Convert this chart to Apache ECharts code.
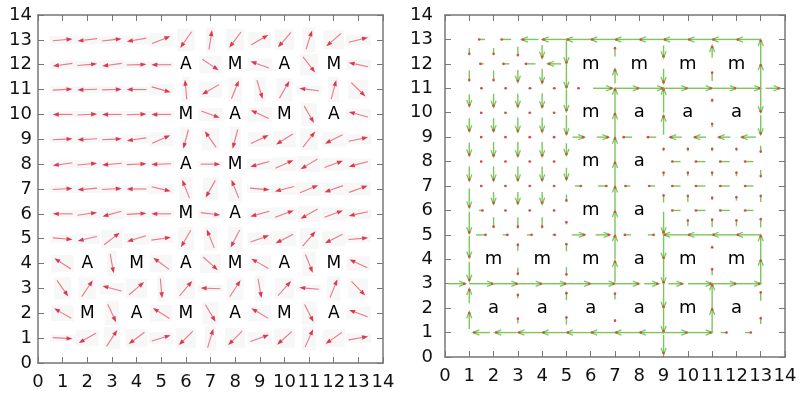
<!DOCTYPE html>
<html><head><meta charset="utf-8">
<script src="https://cdn.jsdelivr.net/npm/echarts@6/dist/echarts.min.js"></script>
<style>html,body{margin:0;padding:0;background:#fff}#c{width:802px;height:393px}</style>
</head><body><div id="c"></div>
<script>
// ---------- data ----------
const axisMin = 0, axisMax = 14;

// Left panel: arrow direction (degrees, counter-clockwise from +x) at integer grid points.
// Rows y = 13 … 1, columns x = 1 … 13; null = labelled cell.
const leftRowsY = [13,12,11,10,9,8,7,6,5,4,3,2,1];
const leftColsX = [1,2,3,4,5,6,7,8,9,10,11,12,13];
const leftAngles = [
  [5,187,7,190,22,235, 81,233,30,229,72,221,14],
  [188,5,188,2,180,null, -34,null,160,null,-52,null,168],
  [3,182,2,180,-16,95, 210,68,-73,60,173,75,-44],
  [180,3,180,2,180,null, -20,null,155,null,-60,null,165],
  [3,183,3,188,24,255, 125,255,25,212,52,207,12],
  [188,5,185,3,182,null, 0,null,195,24,211,20,195],
  [3,185,3,180,-13,112, 241,112,-5,195,22,200,20],
  [180,8,195,3,180,null, -7,null,195,20,210,20,192],
  [-5,193,38,197,8,240, 112,243,20,207,49,207,5],
  [147,null,-80,null,144,null, -42,null,150,null,-68,null,155],
  [-55,56,165,40,-85,50, 178,57,-80,48,175,68,-46],
  [150,null,-65,null,148,null, -59,null,149,null,-63,null,160],
  [-3,210,57,217,17,225, 73,225,20,222,66,215,10]
];
const leftLabelX = [6,8,10,12, 6,8,10,12, 6,8, 6,8, 2,4,6,8,10,12, 2,4,6,8,10,12];
const leftLabelY = [12,12,12,12, 10,10,10,10, 8,8, 6,6, 4,4,4,4,4,4, 2,2,2,2,2,2];
const leftLabelText = ['A','M','A','M', 'M','A','M','A', 'A','M', 'M','A', 'A','M','A','M','A','M', 'M','A','M','A','M','A'];

// Right panel: horizontal components at x = 0.5 … 13.5, rows y = 13 … 1
const flowHRowsY = [13,12,11,10,9,8,7,6,5,4,3,2,1];
const flowHColsX = [0.5,1.5,2.5,3.5,4.5,5.5,6.5,7.5,8.5,9.5,10.5,11.5,12.5,13.5];
const flowH = [
  [0,-0.3,-0.45,-0.7,-1,-1,-1,-1,-1,-1,-1,-1,-1,0],
  [0,-0.2,-0.3,-0.45,-0.55,0,0,0,0,0,0,0,0,0],
  [0,0.12,0.12,0.12,0.12,0.12,0.8,1,1,1,1,1,1,0.6],
  [0,0.1,0.1,0.1,0.1,0,0,0,0,0,0,0,0,0],
  [0,0.1,0.1,0.1,0.1,0.5,0.5,-0.4,-0.4,-0.5,-0.5,-0.5,-0.6,0],
  [0,0.1,0.1,0.1,0.1,0,0,0,0,-0.4,-0.45,-0.45,-0.4,0],
  [0,0.1,0.1,0.1,0.1,0.3,0.4,-0.25,-0.3,-0.4,-0.45,-0.45,-0.4,0],
  [0,0.2,0.1,0.1,0.1,0,0,0,0,-0.4,-0.45,-0.45,-0.4,0],
  [0,0.45,0.25,0.25,0.15,0.55,0.6,-0.3,0.3,-1,-1,-1,-1,0],
  [0,0,0,0,0,0,0,0,0,0,0,0,0,0],
  [0.7,1,1,1,1,1,1,1,0.6,0.6,1,1,1,0],
  [0,0,0,0,0,0,0,0,0,0,0,0,0,0],
  [0,-0.7,-0.9,-1,-1,-1,-1,-1,-1,1,1,0.3,0.3,0]
];
// Right panel: vertical components at x = 1 … 13, rows y = 13.5 … 0.5
const flowVRowsY = [13.5,12.5,11.5,10.5,9.5,8.5,7.5,6.5,5.5,4.5,3.5,2.5,1.5,0.5];
const flowVColsX = [1,2,3,4,5,6,7,8,9,10,11,12,13];
const flowV = [
  [0,0,0,0,0,0,0,0,0,0,0,0,0],
  [-0.3,-0.3,-0.4,-0.55,-1,0,0.4,0,-0.5,0,0.5,0,1],
  [-0.45,-0.45,-0.5,-0.6,-1,0,0.6,0,-0.6,0,0.4,0,1],
  [-0.5,-0.55,-0.55,-0.6,-0.9,0,1,0,1,0,0.15,0,-1],
  [-0.55,-0.55,-0.6,-0.6,-0.8,0,1,0,0.8,0,0.2,0,-0.8],
  [-0.55,-0.6,-0.6,-0.6,-0.5,0,1,0,0.15,0.15,0.15,0.15,-0.3],
  [-0.6,-0.6,-0.6,-0.6,-0.5,0,1,0,0.2,0.2,0.2,0.2,-0.3],
  [-0.8,-0.5,-0.5,-0.5,-0.3,0,1,0,0.35,0.3,0.15,0.2,0.3],
  [-0.9,-0.45,-0.45,-0.45,0.15,0,1,0,-0.9,0.3,0.35,0.3,0.4],
  [-0.9,0,0.3,0,0.35,0,1,0,-1,0,0.1,0,1],
  [-0.8,0,-0.3,0,-0.35,0,0.9,0,-1,0,0.3,0,1],
  [0.6,0,0.2,0,0.35,0,0.3,0,-1,0,1,0,0.4],
  [0.7,0,0.25,0,0.35,0,0.1,0,-1,0,1,0,0.3],
  [0,0,0,0,0,0,0,0,-0.8,0,0,0,0]
];
const rightLabelX = [6,8,10,12, 6,8,10,12, 6,8, 6,8, 2,4,6,8,10,12, 2,4,6,8,10,12];
const rightLabelY = [12,12,12,12, 10,10,10,10, 8,8, 6,6, 4,4,4,4,4,4, 2,2,2,2,2,2];
const rightLabelText = ['m','m','m','m', 'm','a','a','a', 'm','a', 'm','a', 'm','m','m','a','m','m', 'a','a','a','a','m','a'];

// ---------- build series data ----------
const leftData = [];
leftRowsY.forEach((y, r) => leftColsX.forEach((x, c) => {
  const a = leftAngles[r][c];
  if (a !== null) leftData.push([x, y, a]);
}));
const flowData = [];
flowHRowsY.forEach((y, r) => flowHColsX.forEach((x, c) => {
  const v = flowH[r][c];
  if (v !== 0) flowData.push([x, y, v, 0]);
}));
flowVRowsY.forEach((y, r) => flowVColsX.forEach((x, c) => {
  const v = flowV[r][c];
  if (v !== 0) flowData.push([x, y, 0, v]);
}));
const leftLabels = leftLabelX.map((x, i) => [x, leftLabelY[i], leftLabelText[i]]);
const rightLabels = rightLabelX.map((x, i) => [x, rightLabelY[i], rightLabelText[i]]);

// ---------- render helpers ----------
function leftArrow(params, api) {
  const x = api.value(0), y = api.value(1), ang = api.value(2) * Math.PI / 180;
  const c = api.coord([x, y]);
  const s = api.size([1, 1]);
  const L = 0.8 * s[0];
  const ux = Math.cos(ang), uy = -Math.sin(ang);
  const x0 = c[0] - ux * L / 2, y0 = c[1] - uy * L / 2;
  const x1 = c[0] + ux * L / 2, y1 = c[1] + uy * L / 2;
  const hl = 6, hw = 2.2;
  const bx = x1 - ux * hl, by = y1 - uy * hl;
  const px = -uy, py = ux;
  const minx = Math.min(x0, x1) - 3, maxx = Math.max(x0, x1) + 3;
  const miny = Math.min(y0, y1) - 3, maxy = Math.max(y0, y1) + 3;
  return {type: 'group', children: [
    {type: 'rect', shape: {x: minx, y: miny, width: maxx - minx, height: maxy - miny}, style: {fill: '#f7f7f7'}},
    {type: 'line', shape: {x1: x0, y1: y0, x2: bx, y2: by}, style: {stroke: '#ea7886', lineWidth: 1.1}},
    {type: 'polygon', shape: {points: [[x1, y1], [bx + px * hw, by + py * hw], [bx - px * hw, by - py * hw]]}, style: {fill: '#dc3850'}}
  ]};
}
function flowArrow(params, api) {
  const x = api.value(0), y = api.value(1), dx = api.value(2), dy = api.value(3);
  const c = api.coord([x, y]);
  const s = api.size([1, 1]);
  const vx = dx * s[0], vy = -dy * s[1];
  const len = Math.hypot(vx, vy);
  const ux = vx / len, uy = vy / len;
  const px = -uy, py = ux;
  const x0 = c[0] - vx / 2, y0 = c[1] - vy / 2, x1 = c[0] + vx / 2, y1 = c[1] + vy / 2;
  const green = '#7cc65c';
  const kids = [
    {type: 'line', shape: {x1: x0, y1: y0, x2: x1, y2: y1}, style: {stroke: green, lineWidth: 1.4}}
  ];
  if (len >= 11) {
    const hl = 6.5, hw = 2.6;
    const bx = x1 - ux * hl, by = y1 - uy * hl;
    kids.push({type: 'polyline', shape: {points: [[bx + px * hw, by + py * hw], [x1, y1], [bx - px * hw, by - py * hw]]},
      style: {stroke: green, lineWidth: 1.3, fill: null}});
  }
  kids.push({type: 'circle', shape: {cx: x1 - ux * 1.5, cy: y1 - uy * 1.5, r: 1.3}, style: {fill: '#e04848'}});
  return {type: 'group', children: kids};
}
function labelRenderer(list, size) {
  return function (params, api) {
    const d = list[params.dataIndex];
    const c = api.coord([d[0], d[1]]);
    return {type: 'text', x: c[0], y: c[1], style: {
      text: d[2], fill: '#000', align: 'center', verticalAlign: 'middle',
      font: size + 'px "DejaVu Sans"'
    }};
  };
}

// ---------- axes ----------
const axisColor = '#777';
function xAx(grid, pos, showLabels) {
  return {gridIndex: grid, type: 'value', min: axisMin, max: axisMax, interval: 1, position: pos,
    axisLine: {show: true, onZero: false, lineStyle: {color: axisColor, width: 1.5}},
    axisTick: {show: true, inside: true, length: 6, lineStyle: {color: axisColor, width: 1}},
    axisLabel: {show: showLabels, fontSize: 18, color: '#111', margin: 10, fontFamily: 'DejaVu Sans'},
    splitLine: {show: false}};
}
function yAx(grid, pos, showLabels, margin) {
  return {gridIndex: grid, type: 'value', min: axisMin, max: axisMax, interval: 1, position: pos,
    axisLine: {show: true, onZero: false, lineStyle: {color: axisColor, width: 1.5}},
    axisTick: {show: true, inside: true, length: 6, lineStyle: {color: axisColor, width: 1}},
    axisLabel: {show: showLabels, fontSize: 18, color: '#111', margin: margin, fontFamily: 'DejaVu Sans'},
    splitLine: {show: false}};
}

const chart = echarts.init(document.getElementById('c'), null, {renderer: 'canvas'});
chart.setOption({
  animation: false,
  backgroundColor: '#fff',
  grid: [
    {left: 38, top: 15, width: 345, height: 348, containLabel: false, outerBoundsMode: 'none'},
    {left: 445, top: 15, width: 340, height: 342, containLabel: false, outerBoundsMode: 'none'}
  ],
  xAxis: [xAx(0, 'bottom', true), xAx(0, 'top', false), xAx(1, 'bottom', true), xAx(1, 'top', false)],
  yAxis: [yAx(0, 'left', true, 6), yAx(0, 'right', false, 6), yAx(1, 'left', true, 12), yAx(1, 'right', false, 6)],
  series: [
    {type: 'custom', xAxisIndex: 0, yAxisIndex: 0, data: leftData, renderItem: leftArrow, clip: false},
    {type: 'custom', xAxisIndex: 0, yAxisIndex: 0, data: leftLabels.map(d => [d[0], d[1]]), renderItem: labelRenderer(leftLabels, 17)},
    {type: 'custom', xAxisIndex: 2, yAxisIndex: 2, data: flowData, renderItem: flowArrow, clip: false},
    {type: 'custom', xAxisIndex: 2, yAxisIndex: 2, data: rightLabels.map(d => [d[0], d[1]]), renderItem: labelRenderer(rightLabels, 18)}
  ]
});
</script>
</body></html>
